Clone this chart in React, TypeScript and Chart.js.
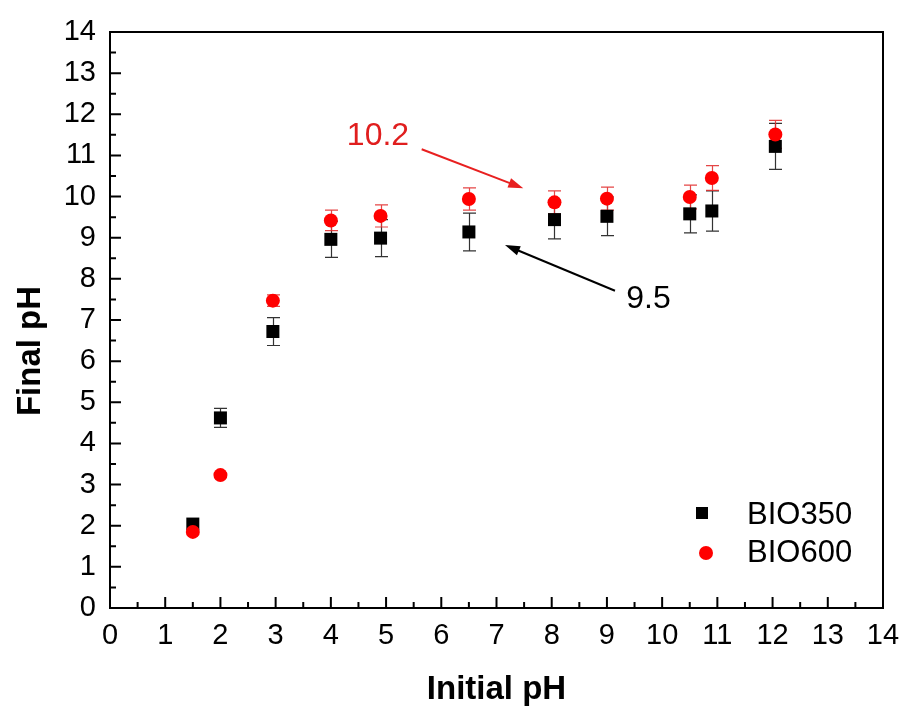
import React, { useEffect, useRef } from 'react';
import { Chart, registerables } from 'chart.js';

Chart.register(...registerables);

// ---------- data ----------
const initialPH = [1.5, 2, 2.95, 4, 4.9, 6.5, 8.05, 9, 10.5, 10.9, 12.05];
const bio350 = [2.04, 4.62, 6.72, 8.96, 8.99, 9.14, 9.44, 9.52, 9.58, 9.65, 11.22];
const bio350Err = [0, 0.23, 0.34, 0.44, 0.45, 0.46, 0.47, 0.47, 0.46, 0.49, 0.56];
const bio600 = [1.85, 3.23, 7.47, 9.42, 9.53, 9.94, 9.86, 9.95, 9.99, 10.45, 11.51];
const bio600Err = [0, 0.05, 0.14, 0.25, 0.27, 0.27, 0.28, 0.28, 0.29, 0.3, 0.34];

const seriesNames = ['BIO350', 'BIO600'];
const xTitle = 'Initial pH';
const yTitle = 'Final pH';
const axisMin = 0;
const axisMax = 14;

const annotationLabels = ['10.2', '9.5'];
const annotationTextX = [4.29, 9.35];
const annotationTextY = [11.25, 7.28];
const arrowFromX = [5.645, 9.146];
const arrowFromY = [11.149, 7.712];
const arrowToX = [7.485, 7.154];
const arrowToY = [10.201, 8.823];

// ---------- styles ----------
const FONT = '"Liberation Sans", Arial, sans-serif';
const BLACK = '#000000';
const RED = '#ff0000';
const RED_TEXT = '#e01e1e';
const annotationColors = [RED_TEXT, '#000000'];
const arrowColors = ['#e82020', '#000000'];

function drawArrow(ctx: CanvasRenderingContext2D, x1: number, y1: number, x2: number, y2: number, color: string) {
  const ang = Math.atan2(y2 - y1, x2 - x1);
  const headLen = 15;
  const headHalf = 5;
  ctx.save();
  ctx.strokeStyle = color;
  ctx.fillStyle = color;
  ctx.lineWidth = 2;
  ctx.beginPath();
  ctx.moveTo(x1, y1);
  ctx.lineTo(x2 - Math.cos(ang) * (headLen - 2), y2 - Math.sin(ang) * (headLen - 2));
  ctx.stroke();
  ctx.beginPath();
  ctx.moveTo(x2, y2);
  const bx = x2 - Math.cos(ang) * headLen;
  const by = y2 - Math.sin(ang) * headLen;
  ctx.lineTo(bx + Math.sin(ang) * headHalf, by - Math.cos(ang) * headHalf);
  ctx.lineTo(bx - Math.sin(ang) * headHalf, by + Math.cos(ang) * headHalf);
  ctx.closePath();
  ctx.fill();
  ctx.restore();
}

const decorPlugin = {
  id: 'decor',
  beforeDatasetsDraw(chart: any) {
    const ctx: CanvasRenderingContext2D = chart.ctx;
    const xs = chart.scales.x;
    const ys = chart.scales.y;
    const drawErr = (vals: number[], errs: number[], color: string) => {
      ctx.save();
      ctx.strokeStyle = color;
      ctx.lineWidth = 1.2;
      for (let i = 0; i < vals.length; i++) {
        if (!errs[i]) continue;
        const px = Math.round(xs.getPixelForValue(initialPH[i])) + 0.5;
        const top = ys.getPixelForValue(vals[i] + errs[i]);
        const bot = ys.getPixelForValue(vals[i] - errs[i]);
        ctx.beginPath();
        ctx.moveTo(px, top);
        ctx.lineTo(px, bot);
        ctx.moveTo(px - 6.5, top);
        ctx.lineTo(px + 6.5, top);
        ctx.moveTo(px - 6.5, bot);
        ctx.lineTo(px + 6.5, bot);
        ctx.stroke();
      }
      ctx.restore();
    };
    drawErr(bio350, bio350Err, '#333333');
    drawErr(bio600, bio600Err, 'rgba(225,50,50,0.9)');
  },
  afterDraw(chart: any) {
    const ctx: CanvasRenderingContext2D = chart.ctx;
    const xs = chart.scales.x;
    const ys = chart.scales.y;
    const a = chart.chartArea;

    // frame
    ctx.save();
    ctx.strokeStyle = BLACK;
    ctx.lineWidth = 2;
    ctx.strokeRect(a.left, a.top, a.right - a.left, a.bottom - a.top);

    // inward ticks
    ctx.lineWidth = 2;
    ctx.beginPath();
    for (let v = axisMin; v <= axisMax + 1e-9; v += 0.5) {
      const major = Math.abs(v - Math.round(v)) < 1e-9;
      const len = major ? 11 : 6;
      const px = xs.getPixelForValue(v);
      ctx.moveTo(px, a.bottom);
      ctx.lineTo(px, a.bottom - len);
      const py = ys.getPixelForValue(v);
      ctx.moveTo(a.left, py);
      ctx.lineTo(a.left + len, py);
    }
    ctx.stroke();

    // y title
    ctx.save();
    ctx.translate(30.5, (a.top + a.bottom) / 2 + 31);
    ctx.rotate(-Math.PI / 2);
    ctx.font = `bold 33px ${FONT}`;
    ctx.fillStyle = BLACK;
    ctx.textAlign = 'center';
    ctx.textBaseline = 'middle';
    ctx.fillText(yTitle, 0, 0);
    ctx.restore();

    // legend
    ctx.font = `31px ${FONT}`;
    ctx.textAlign = 'left';
    ctx.textBaseline = 'alphabetic';
    ctx.fillStyle = BLACK;
    ctx.fillRect(a.right - 181 - 6, a.bottom - 95 - 6, 12, 12);
    ctx.fillText(seriesNames[0], a.right - 136, a.bottom - 84.5);
    ctx.fillStyle = RED;
    ctx.beginPath();
    ctx.arc(a.right - 177, a.bottom - 55, 7, 0, Math.PI * 2);
    ctx.fill();
    ctx.fillStyle = BLACK;
    ctx.fillText(seriesNames[1], a.right - 136, a.bottom - 46.3);

    // annotations
    for (let i = 0; i < annotationLabels.length; i++) {
      ctx.font = `32px ${FONT}`;
      ctx.fillStyle = annotationColors[i];
      ctx.textAlign = 'left';
      ctx.textBaseline = 'alphabetic';
      ctx.fillText(annotationLabels[i], xs.getPixelForValue(annotationTextX[i]), ys.getPixelForValue(annotationTextY[i]));
      drawArrow(
        ctx,
        xs.getPixelForValue(arrowFromX[i]),
        ys.getPixelForValue(arrowFromY[i]),
        xs.getPixelForValue(arrowToX[i]),
        ys.getPixelForValue(arrowToY[i]),
        arrowColors[i]
      );
    }
    ctx.restore();
  },
};

export default function App() {
  const ref = useRef<HTMLCanvasElement | null>(null);

  useEffect(() => {
    if (!ref.current) return;
    const toPts = (ys: number[]) => initialPH.map((x, i) => ({ x, y: ys[i] }));
    const chart = new Chart(ref.current, {
      type: 'scatter',
      data: {
        datasets: [
          {
            label: seriesNames[0],
            data: toPts(bio350),
            pointStyle: 'rect',
            pointRadius: 9.2,
            pointHoverRadius: 9.2,
            backgroundColor: BLACK,
            borderWidth: 0,
            order: 1,
          },
          {
            label: seriesNames[1],
            data: toPts(bio600),
            pointStyle: 'circle',
            pointRadius: 7,
            pointHoverRadius: 7,
            backgroundColor: RED,
            borderWidth: 0,
            order: 0,
          },
        ],
      },
      options: {
        animation: false,
        responsive: false,
        devicePixelRatio: 1,
        layout: { padding: { top: 32, right: 21, left: 0, bottom: 0 } },
        plugins: { legend: { display: false }, tooltip: { enabled: false } },
        scales: {
          x: {
            type: 'linear',
            min: axisMin,
            max: axisMax,
            grid: { display: false, drawTicks: false },
            border: { display: false },
            ticks: {
              stepSize: 1,
              color: BLACK,
              padding: 11,
              maxRotation: 0,
              font: { family: FONT, size: 29 },
            },
            title: {
              display: true,
              text: xTitle,
              color: BLACK,
              padding: 0,
              font: { family: FONT, size: 33, weight: 'bold', lineHeight: 1.15 },
            },
            afterFit: (s: any) => {
              s.height = 101;
              s.paddingLeft = 0;
              s.paddingRight = 0;
            },
          },
          y: {
            type: 'linear',
            min: axisMin,
            max: axisMax,
            grid: { display: false, drawTicks: false },
            border: { display: false },
            ticks: {
              stepSize: 1,
              color: BLACK,
              padding: 14,
              font: { family: FONT, size: 29 },
            },
            afterFit: (s: any) => {
              s.width = 110;
              s.paddingTop = 0;
              s.paddingBottom = 0;
            },
          },
        },
      },
      plugins: [decorPlugin],
    });
    return () => chart.destroy();
  }, []);

  return (
    <canvas
      ref={ref}
      width={904}
      height={709}
      style={{ position: 'fixed', left: 0, top: 0, width: 904, height: 709, display: 'block', background: '#fff' }}
    />
  );
}
